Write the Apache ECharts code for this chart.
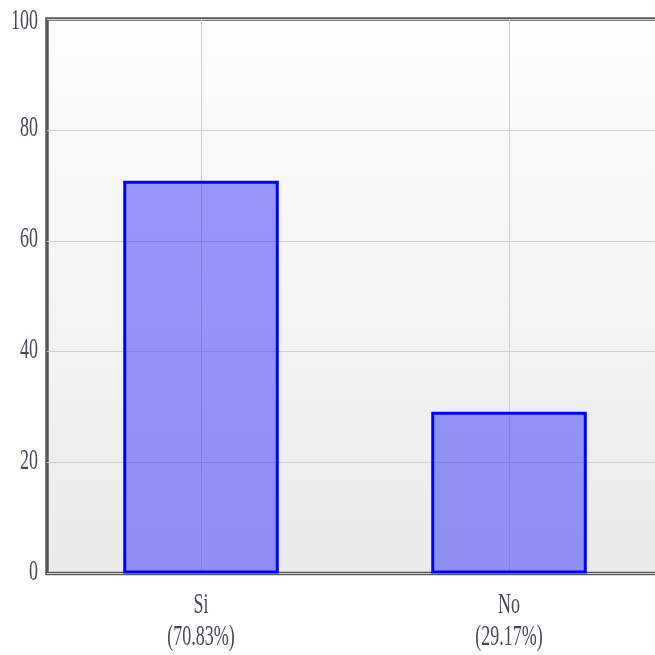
<!DOCTYPE html>
<html>
<head>
<meta charset="utf-8">
<script src="https://cdn.jsdelivr.net/npm/echarts@6/dist/echarts.min.js"></script>
<style>
  html, body { margin: 0; padding: 0; overflow: hidden; background: #fff; }
  #chart { width: 680px; height: 655px; }
</style>
</head>
<body>
<div id="chart"></div>
<script>
// Survey answers and their share of responses
const categories = ['Si', 'No'];
const shares = [70.83, 29.17];
const yTicks = [0, 20, 40, 60, 80, 100];

const chart = echarts.init(document.getElementById('chart'), null, { renderer: 'canvas' });

const labelFont = 'Liberation Serif, Times New Roman, serif';
const labelColor = '#434959';
const labelSize = 29;
const labelSqueeze = 0.62; // narrow, tall lettering
const gridLeft = 47;

chart.setOption({
  animation: false,
  grid: {
    left: gridLeft,
    top: 19,
    width: 616,
    bottom: 81.5,
    show: true,
    borderWidth: 3.5,
    borderColor: '#575757',
    backgroundColor: {
      type: 'linear', x: 0, y: 0, x2: 0, y2: 1,
      colorStops: [
        { offset: 0, color: '#fefefe' },
        { offset: 1, color: '#eaeaea' }
      ]
    }
  },
  xAxis: {
    type: 'category',
    data: categories,
    axisLine: { show: false },
    axisTick: { show: false, alignWithLabel: true },
    splitLine: { show: true, alignWithLabel: true, lineStyle: { color: '#cfcfcf', width: 1 } },
    axisLabel: { show: false }
  },
  yAxis: {
    type: 'value',
    min: yTicks[0],
    max: yTicks[yTicks.length - 1],
    interval: yTicks[1] - yTicks[0],
    axisLine: { show: false },
    axisTick: { show: false },
    splitLine: { show: true, lineStyle: { color: '#cfcfcf', width: 1 } },
    axisLabel: { show: false }
  },
  series: [{
    type: 'bar',
    data: shares,
    barWidth: '50.5%',
    itemStyle: {
      color: 'rgba(40, 40, 250, 0.47)',
      borderColor: '#0000ff',
      borderWidth: 3
    }
  }]
});

// Axis labels as condensed text placed through the axes' own scales
function labelText(x, y, text, align) {
  return {
    type: 'text',
    x: x,
    y: y,
    scaleX: labelSqueeze,
    silent: true,
    style: {
      text: text,
      x: 0,
      y: 0,
      fill: labelColor,
      font: labelSize + 'px ' + labelFont,
      align: align,
      verticalAlign: 'middle'
    }
  };
}

const labels = [];
yTicks.forEach(function (v) {
  const py = chart.convertToPixel({ yAxisIndex: 0 }, v);
  // keep the top label clear of the canvas edge
  labels.push(labelText(gridLeft - 9, Math.max(py - 1.5, 21), String(v), 'right'));
});
const baseY = chart.convertToPixel({ yAxisIndex: 0 }, 0);
categories.forEach(function (c, i) {
  const px = chart.convertToPixel({ xAxisIndex: 0 }, c);
  labels.push(labelText(px, baseY + 31.5, c, 'center'));
  labels.push(labelText(px, baseY + 64, '(' + shares[i].toFixed(2) + '%)', 'center'));
});

chart.setOption({ graphic: labels });
</script>
</body>
</html>
